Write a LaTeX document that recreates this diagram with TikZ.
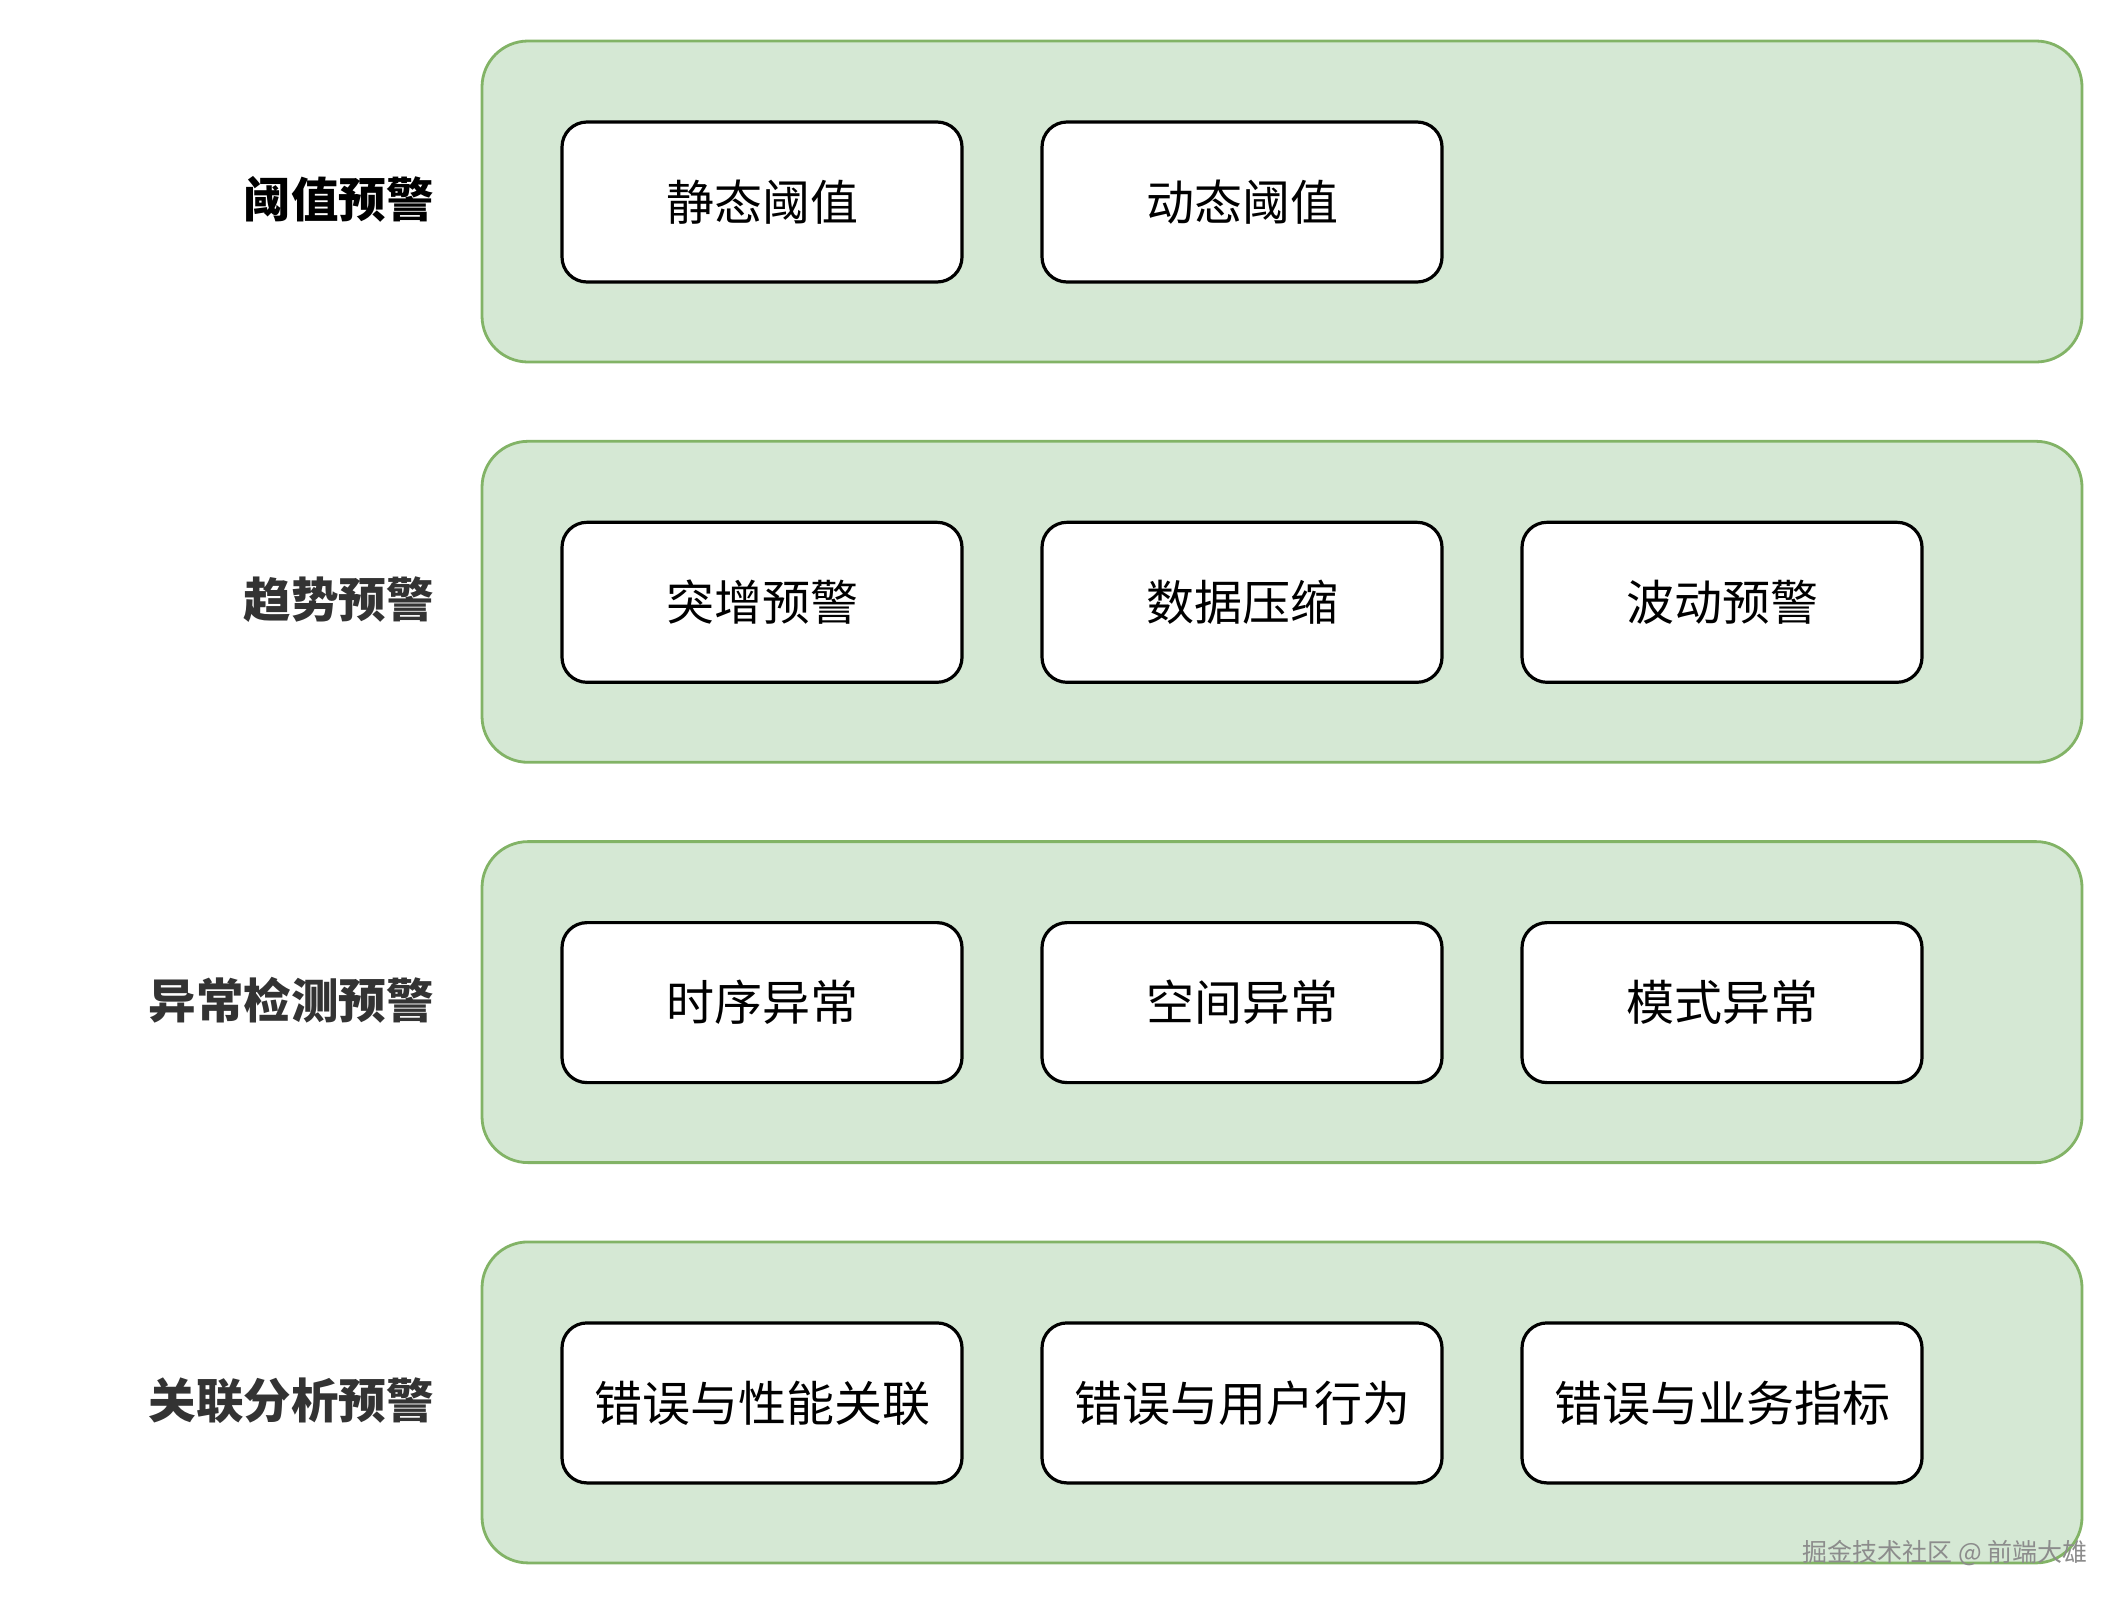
\documentclass[tikz,border=0pt]{standalone}
\usepackage{fontspec}
\setmainfont{Noto Sans CJK SC}
\definecolor{panelfill}{HTML}{D5E8D4}
\definecolor{panelline}{HTML}{82B366}
\definecolor{labgray}{HTML}{333333}
\begin{document}
\begin{tikzpicture}[x=1pt,y=-1pt,
  panel/.style={draw=panelline, fill=panelfill, line width=2.8pt, rounded corners=46pt,
    minimum width=1600pt, minimum height=321pt, inner sep=0pt},
  item/.style={draw=black, fill=white, line width=3.2pt, rounded corners=25pt,
    minimum width=400pt, minimum height=160pt, inner sep=0pt,
    font=\fontsize{48}{56}\selectfont},
  lab/.style={anchor=east, inner sep=0pt, font=\fontsize{47.5}{56}\selectfont\bfseries},
  wm/.style={anchor=east, inner sep=0pt, text=black!45, font=\fontsize{25}{30}\selectfont}]
\useasboundingbox (0,0) rectangle (2124,1604);
% panels
\node[panel] (p1) at (1282,201.5) {};
\node[panel] (p2) at (1282,601.8) {};
\node[panel] (p3) at (1282,1002.1) {};
\node[panel] (p4) at (1282,1402.4) {};
% labels
\node[lab, text=black] (l1) at (434,199.5) {阈值预警};
\node[lab, text=labgray] (l2) at (434,599.8) {趋势预警};
\node[lab, text=labgray] (l3) at (434,1000.1) {异常检测预警};
\node[lab, text=labgray] (l4) at (434,1400.4) {关联分析预警};
% row 1
\node[item] (a1) at (762,202) {静态阈值};
\node[item] (a2) at (1242,202) {动态阈值};
% row 2
\node[item] (b1) at (762,602.3) {突增预警};
\node[item] (b2) at (1242,602.3) {数据压缩};
\node[item] (b3) at (1722,602.3) {波动预警};
% row 3
\node[item] (c1) at (762,1002.6) {时序异常};
\node[item] (c2) at (1242,1002.6) {空间异常};
\node[item] (c3) at (1722,1002.6) {模式异常};
% row 4
\node[item] (d1) at (762,1402.9) {错误与性能关联};
\node[item] (d2) at (1242,1402.9) {错误与用户行为};
\node[item] (d3) at (1722,1402.9) {错误与业务指标};
% watermark
\node[wm] (w) at (2088,1553) {掘金技术社区 @ 前端大雄};
\end{tikzpicture}
\end{document}
